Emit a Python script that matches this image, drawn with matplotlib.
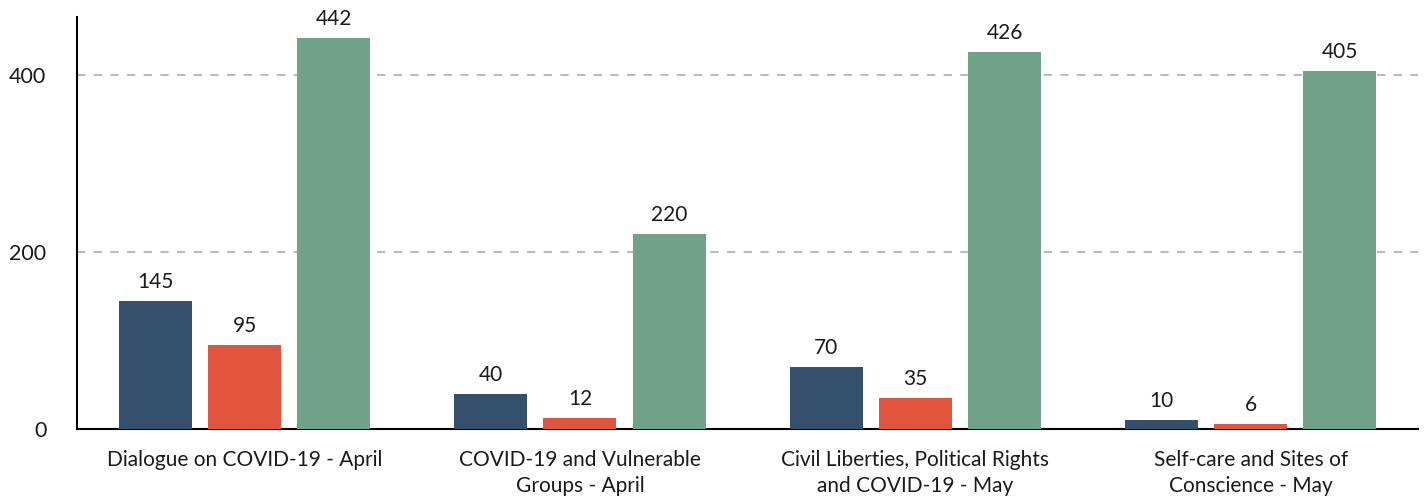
import matplotlib.pyplot as plt
import numpy as np

plt.rcParams['font.family'] = ['Lato', 'DejaVu Sans']

categories = ["Dialogue on COVID-19 - April", "COVID-19 and Vulnerable\nGroups - April",
              "Civil Liberties, Political Rights\nand COVID-19 - May", "Self-care and Sites of\nConscience - May"]
series_a = [145, 40, 70, 10]
series_b = [95, 12, 35, 6]
series_c = [442, 220, 426, 405]
colors = ["#34506d", "#e0533d", "#70a28a"]

fig = plt.figure(figsize=(14.24, 5.0), dpi=100)
ax = fig.add_axes([0.054, 0.142, 0.942, 0.824])

x = np.arange(len(categories))
w = 0.218
off = 0.266
for i, (vals, c) in enumerate(zip([series_a, series_b, series_c], colors)):
    bars = ax.bar(x + (i - 1) * off, vals, width=w, color=c, zorder=3)
    for b, v in zip(bars, vals):
        ax.annotate(str(v), (b.get_x() + b.get_width() / 2, v), xytext=(0, 6.5),
                    textcoords="offset points", ha="center", va="bottom",
                    fontsize=15, color="#1a1a1a")

ax.set_xlim(-0.5, len(categories) - 0.5)
ax.set_ylim(0, 466)
ax.set_yticks([0, 200, 400])
ax.set_xticks(x)
ax.set_xticklabels(categories, fontsize=15, color="#1a1a1a", linespacing=1.4)
ax.tick_params(axis="y", length=0, pad=22, labelsize=15.5, labelcolor="#1a1a1a")
ax.tick_params(axis="x", length=0, pad=15)
ax.yaxis.grid(True, linestyle=(0, (4, 4)), color="#bbbbbb", linewidth=1.5, zorder=0)
for s in ["top", "right"]:
    ax.spines[s].set_visible(False)
ax.spines["left"].set_linewidth(1.5)
ax.spines["bottom"].set_linewidth(1.5)

fig.savefig("out.png", dpi=100)
